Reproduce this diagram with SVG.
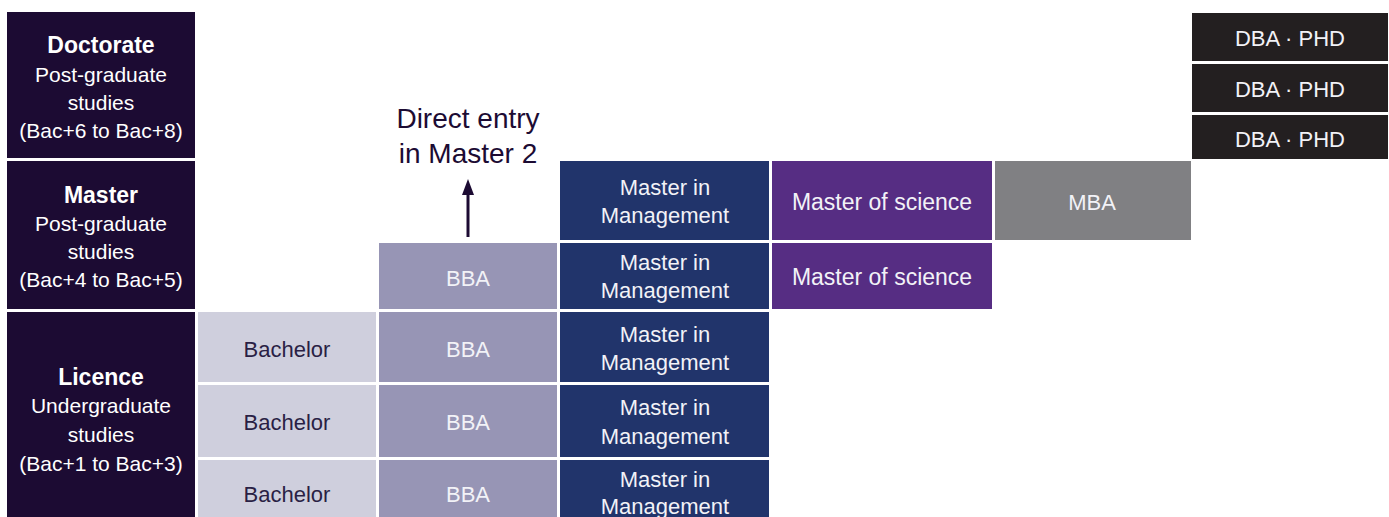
<svg xmlns="http://www.w3.org/2000/svg" width="1389" height="517" viewBox="0 0 1389 517">
<defs>
<style>
text{font-family:"Liberation Sans",Arial,sans-serif;text-anchor:middle}
.lvl{fill:#1c0b33}
.bach{fill:#cfcfdd}
.bba{fill:#9795b5}
.mim{fill:#21346b}
.msc{fill:#562d83}
.mba{fill:#808083}
.dba{fill:#231f20}
.h{font-size:23px;font-weight:bold;fill:#ffffff}
.s{font-size:21px;fill:#ffffff}
.t{font-size:22px;fill:#f2f2f7}
.td{font-size:22px;fill:#2a1f45}
.big{font-size:28px;fill:#1c0b33}
</style>
<marker id="ah" markerWidth="16" markerHeight="12" refX="2" refY="6" orient="auto" markerUnits="userSpaceOnUse" viewBox="0 0 16 12">
<path d="M0,0 L16,6 L0,12 Z" fill="#1c0b33"/>
</marker>
</defs>
<rect width="1389" height="517" fill="#ffffff"/>

<g id="level-doctorate">
<rect class="lvl" x="7" y="12" width="188" height="146"/>
<text class="h" x="101" y="53">Doctorate</text>
<text class="s" x="101" y="82">Post-graduate</text>
<text class="s" x="101" y="110">studies</text>
<text class="s" x="101" y="138">(Bac+6 to Bac+8)</text>
</g>
<g id="level-master">
<rect class="lvl" x="7" y="161" width="188" height="148"/>
<text class="h" x="101" y="203">Master</text>
<text class="s" x="101" y="231">Post-graduate</text>
<text class="s" x="101" y="259">studies</text>
<text class="s" x="101" y="287">(Bac+4 to Bac+5)</text>
</g>
<g id="level-licence">
<rect class="lvl" x="7" y="312" width="188" height="205"/>
<text class="h" x="101" y="385">Licence</text>
<text class="s" x="101" y="413">Undergraduate</text>
<text class="s" x="101" y="442">studies</text>
<text class="s" x="101" y="471">(Bac+1 to Bac+3)</text>
</g>

<g id="bachelor-1"><rect class="bach" x="198" y="312" width="178" height="70"/><text class="td" x="287" y="357">Bachelor</text></g>
<g id="bachelor-2"><rect class="bach" x="198" y="385" width="178" height="72"/><text class="td" x="287" y="430">Bachelor</text></g>
<g id="bachelor-3"><rect class="bach" x="198" y="460" width="178" height="57"/><text class="td" x="287" y="502">Bachelor</text></g>

<g id="bba-1"><rect class="bba" x="379" y="243" width="178" height="66"/><text class="t" x="468" y="286">BBA</text></g>
<g id="bba-2"><rect class="bba" x="379" y="312" width="178" height="70"/><text class="t" x="468" y="357">BBA</text></g>
<g id="bba-3"><rect class="bba" x="379" y="385" width="178" height="72"/><text class="t" x="468" y="430">BBA</text></g>
<g id="bba-4"><rect class="bba" x="379" y="460" width="178" height="57"/><text class="t" x="468" y="502">BBA</text></g>

<g id="mim-1"><rect class="mim" x="560" y="161" width="209" height="79"/><text class="t" x="665" y="195">Master in</text><text class="t" x="665" y="223">Management</text></g>
<g id="mim-2"><rect class="mim" x="560" y="243" width="209" height="66"/><text class="t" x="665" y="270">Master in</text><text class="t" x="665" y="298">Management</text></g>
<g id="mim-3"><rect class="mim" x="560" y="312" width="209" height="70"/><text class="t" x="665" y="342">Master in</text><text class="t" x="665" y="370">Management</text></g>
<g id="mim-4"><rect class="mim" x="560" y="385" width="209" height="72"/><text class="t" x="665" y="415">Master in</text><text class="t" x="665" y="444">Management</text></g>
<g id="mim-5"><rect class="mim" x="560" y="460" width="209" height="57"/><text class="t" x="665" y="487">Master in</text><text class="t" x="665" y="514">Management</text></g>

<g id="msc-1"><rect class="msc" x="772" y="161" width="220" height="79"/><text class="t" x="882" y="210" style="font-size:23px">Master of science</text></g>
<g id="msc-2"><rect class="msc" x="772" y="243" width="220" height="66"/><text class="t" x="882" y="285" style="font-size:23px">Master of science</text></g>

<g id="mba"><rect class="mba" x="995" y="161" width="196" height="79"/><text class="t" x="1092" y="210">MBA</text></g>

<g id="dba-1"><rect class="dba" x="1192" y="13" width="196" height="48"/><text class="t" x="1290" y="46">DBA · PHD</text></g>
<g id="dba-2"><rect class="dba" x="1192" y="64" width="196" height="48"/><text class="t" x="1290" y="97">DBA · PHD</text></g>
<g id="dba-3"><rect class="dba" x="1192" y="115" width="196" height="44"/><text class="t" x="1290" y="147">DBA · PHD</text></g>

<g id="direct-entry">
<text class="big" x="468" y="128">Direct entry</text>
<text class="big" x="468" y="163">in Master 2</text>
</g>

<g id="connectors">
<line x1="468" y1="237" x2="468" y2="193" stroke="#1c0b33" stroke-width="3" marker-end="url(#ah)"/>
</g>
</svg>
